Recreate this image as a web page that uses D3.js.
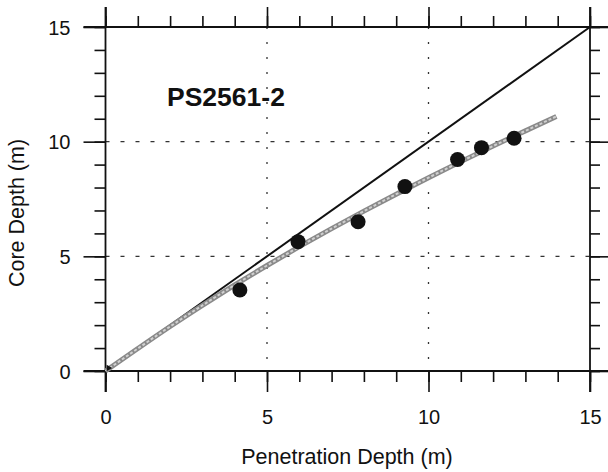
<!DOCTYPE html>
<html>
<head>
<meta charset="utf-8">
<script src="https://cdn.jsdelivr.net/npm/d3@7"></script>
<style>
  body { margin: 0; background: #fff; }
  svg { display: block; }
  .axis path, .axis line { stroke: #111; stroke-width: 1.6px; }
  .axis text { font-family: "Liberation Sans", Arial, sans-serif; font-size: 20px; fill: #111; }
</style>
</head>
<body>
<div id="chart"></div>
<script>
// penetration depth vs core depth, PS2561-2
var pointX = [4.16, 5.96, 7.82, 9.27, 10.9, 11.64, 12.65]
var pointY = [3.53, 5.64, 6.51, 8.04, 9.22, 9.74, 10.15]

// gray fitted curve
var fitX = [0, 1, 2, 3, 4, 5, 6, 7, 8, 9, 10, 11, 12, 13, 13.96]
var fitY = [0, 0.98, 1.94, 2.86, 3.75, 4.6, 5.42, 6.21, 6.97, 7.71, 8.43, 9.13, 9.81, 10.47, 11.1]

// 1:1 line
var oneToOne = [[0, 0], [15, 15]]

var majorTicks = [0, 5, 10, 15]
var minorTicks = d3.range(0, 16)
var gridTicks = [5, 10]

var width = 608, height = 472
var plotLeft = 105.5, plotRight = 590, plotTop = 27, plotBottom = 371

var svg = d3.select("#chart").append("svg")
	.attr("width", width)
	.attr("height", height)

var x = d3.scaleLinear().domain([0, 15]).range([plotLeft, plotRight])
var y = d3.scaleLinear().domain([0, 15]).range([plotBottom, plotTop])

// dotted grid
svg.selectAll(".hgrid").data(gridTicks).enter().append("line")
	.attr("x1", plotLeft).attr("x2", plotRight)
	.attr("y1", function(d) { return y(d) }).attr("y2", function(d) { return y(d) })
	.style("stroke", "#333").style("stroke-width", 1.3)
	.style("stroke-dasharray", "4,11")

svg.selectAll(".vgrid").data(gridTicks).enter().append("line")
	.attr("y1", plotTop).attr("y2", plotBottom)
	.attr("x1", function(d) { return x(d) }).attr("x2", function(d) { return x(d) })
	.style("stroke", "#333").style("stroke-width", 1.3)
	.style("stroke-dasharray", "2,13")

// axes: minor then major ticks on all four sides
function drawAxis(axisFn, transform, ticks, size, labels) {
	var a = axisFn.tickValues(ticks).tickSize(size).tickSizeOuter(0)
		.tickFormat(labels ? d3.format("d") : "")
	var g = svg.append("g").attr("class", "axis").attr("transform", transform).call(a)
	g.select(".domain").remove()
	return g
}

drawAxis(d3.axisBottom(x), "translate(0," + plotBottom + ")", minorTicks, 11, false)
drawAxis(d3.axisTop(x), "translate(0," + plotTop + ")", minorTicks, 11, false)
drawAxis(d3.axisLeft(y), "translate(" + plotLeft + ",0)", minorTicks, 11, false)
drawAxis(d3.axisRight(y), "translate(" + plotRight + ",0)", minorTicks, 10, false)

var xb = drawAxis(d3.axisBottom(x), "translate(0," + plotBottom + ")", majorTicks, 21, true)
xb.selectAll("text").attr("y", 53).attr("dy", 0)
drawAxis(d3.axisTop(x), "translate(0," + plotTop + ")", majorTicks, 20, false)
var yl = drawAxis(d3.axisLeft(y), "translate(" + plotLeft + ",0)", majorTicks, 22, true)
yl.selectAll("text").attr("x", -35).attr("dy", "0.35em")
drawAxis(d3.axisRight(y), "translate(" + plotRight + ",0)", majorTicks, 20, false)

// frame lines, running a little past the corners
svg.append("line").attr("x1", plotLeft - 22).attr("x2", width).attr("y1", plotTop).attr("y2", plotTop)
	.style("stroke", "#111").style("stroke-width", 1.8)
svg.append("line").attr("x1", plotLeft - 22).attr("x2", width).attr("y1", plotBottom).attr("y2", plotBottom)
	.style("stroke", "#111").style("stroke-width", 1.8)
svg.append("line").attr("x1", plotLeft).attr("x2", plotLeft).attr("y1", plotTop - 20).attr("y2", plotBottom + 21)
	.style("stroke", "#111").style("stroke-width", 1.8)
svg.append("line").attr("x1", plotRight).attr("x2", plotRight).attr("y1", plotTop - 20).attr("y2", plotBottom + 21)
	.style("stroke", "#111").style("stroke-width", 1.8)

var line = d3.line()
	.x(function(d) { return x(d[0]) })
	.y(function(d) { return y(d[1]) })

// 1:1 line
svg.append("path").datum(oneToOne)
	.attr("d", line)
	.style("fill", "none").style("stroke", "#111").style("stroke-width", 2)

// fitted curve: gray band with lighter core
var fitData = fitX.map(function(d, i) { return [d, fitY[i]] })
var fitLine = d3.line().curve(d3.curveMonotoneX)
	.x(function(d) { return x(d[0]) })
	.y(function(d) { return y(d[1]) })

svg.append("path").datum(fitData)
	.attr("d", fitLine)
	.style("fill", "none").style("stroke", "#8a8a8a").style("stroke-width", 5)
svg.append("path").datum(fitData)
	.attr("d", fitLine)
	.style("fill", "none").style("stroke", "#d0d0d0").style("stroke-width", 2)
	.style("stroke-dasharray", "3,2")

// data points
svg.selectAll(".pt").data(pointX).enter().append("circle")
	.attr("cx", function(d) { return x(d) })
	.attr("cy", function(d, i) { return y(pointY[i]) })
	.attr("r", 7.5)
	.style("fill", "#111")

// small mark at the origin
svg.append("path")
	.attr("d", d3.symbol().type(d3.symbolTriangle).size(18))
	.attr("transform", "translate(" + (x(0) + 3) + "," + (y(0) - 3) + ") rotate(-30)")
	.style("fill", "#111")

// core label
svg.append("text")
	.attr("x", 167).attr("y", 106)
	.style("font-family", "'Liberation Sans', Arial, sans-serif")
	.style("font-weight", "bold").style("font-size", "26.5px").style("fill", "#111")
	.text("PS2561-2")

// axis titles
svg.append("text")
	.attr("x", 347).attr("y", 464)
	.attr("text-anchor", "middle")
	.style("font-family", "'Liberation Sans', Arial, sans-serif")
	.style("font-size", "21.5px").style("fill", "#111")
	.text("Penetration Depth (m)")

svg.append("text")
	.attr("transform", "translate(24," + 213 + ") rotate(-90)")
	.attr("text-anchor", "middle")
	.style("font-family", "'Liberation Sans', Arial, sans-serif")
	.style("font-size", "21.5px").style("fill", "#111")
	.text("Core Depth (m)")
</script>
</body>
</html>
